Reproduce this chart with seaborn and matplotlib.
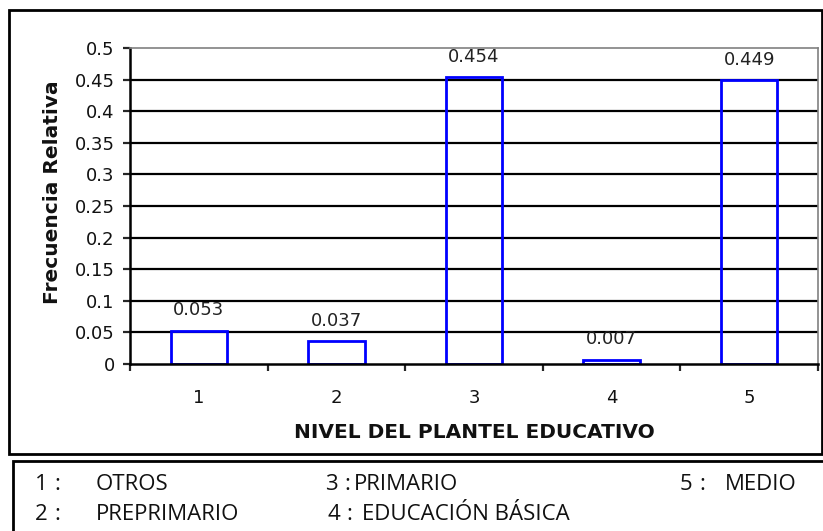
import matplotlib
matplotlib.use("Agg")
import matplotlib.pyplot as plt
import seaborn as sns
import pandas as pd
from matplotlib.patches import Rectangle

# data
niveles = ["1", "2", "3", "4", "5"]
frecuencia = [0.053, 0.037, 0.454, 0.007, 0.449]
etiquetas = ["0.053", "0.037", "0.454", "0.007", "0.449"]
leyenda = [("1", "OTROS"), ("2", "PREPRIMARIO"), ("3", "PRIMARIO"),
           ("4", "EDUCACIÓN BÁSICA"), ("5", "MEDIO")]
yticks = [0, 0.05, 0.1, 0.15, 0.2, 0.25, 0.3, 0.35, 0.4, 0.45, 0.5]

sns.set_style("white")
plt.rcParams["font.family"] = ["DejaVu Sans"]

df = pd.DataFrame({"Nivel": niveles, "Frecuencia": frecuencia})

fig = plt.figure(figsize=(8.23, 5.31), dpi=100)
W, H = 823, 531
ax = fig.add_axes([130 / W, 1 - 364 / H, (818 - 130) / W, (364 - 48) / H])

sns.barplot(data=df, x="Nivel", y="Frecuencia", ax=ax, fill=False,
            edgecolor="#0000ff", linewidth=2, width=0.41, errorbar=None)

ax.set_xlim(-0.5, 4.5)
ax.set_ylim(0, 0.5)
ax.set_yticks(yticks)
ax.set_yticklabels([f"{v:g}" for v in yticks], fontsize=13, color="#111111")
for v in yticks[1:-1]:
    ax.axhline(v, color="black", lw=1.6, zorder=0)

# ticks between categories, labels at centers
ax.set_xticks([i - 0.5 for i in range(len(niveles) + 1)])
ax.set_xticklabels([])
ax.set_xticks(range(len(niveles)), minor=True)
ax.set_xticklabels(niveles, minor=True, fontsize=13, color="#111111")
ax.tick_params(axis="x", which="major", direction="out", length=5, width=1.6, bottom=True)
ax.tick_params(axis="x", which="minor", length=0, pad=18)
ax.tick_params(axis="y", direction="out", length=5, width=1.6, left=True, pad=6)

for s in ["left", "bottom"]:
    ax.spines[s].set_color("black")
    ax.spines[s].set_linewidth(1.8)
for s in ["top", "right"]:
    ax.spines[s].set_color("#808080")
    ax.spines[s].set_linewidth(1.2)

for i, (v, t) in enumerate(zip(frecuencia, etiquetas)):
    ax.annotate(t, (i, v), xytext=(0, 8), textcoords="offset points",
                ha="center", va="bottom", fontsize=13, color="#222222")

ax.set_xlabel("NIVEL DEL PLANTEL EDUCATIVO", fontsize=14.5, fontweight="bold",
              color="#111111")
ax.xaxis.set_label_coords(0.5, -(432 - 364) / (364 - 48), transform=ax.transAxes)
ax.xaxis.label.set_va("center")
ax.set_ylabel("Frecuencia Relativa", fontsize=14.5, fontweight="bold",
              color="#111111")
ax.yaxis.set_label_coords(-(130 - 53) / (818 - 130), (364 - 192) / (364 - 48))
ax.yaxis.label.set_va("center")

# outer chart frame and legend box
fig.add_artist(Rectangle((9 / W, 1 - 454 / H), (822 - 9) / W, (454 - 10) / H,
                         transform=fig.transFigure, fill=False, lw=2, ec="black"))
fig.add_artist(Rectangle((13 / W, -0.05), 1, 1 - 461 / H + 0.05,
                         transform=fig.transFigure, fill=False, lw=2, ec="black"))

pos = {"1": (35, 96, 484), "2": (35, 96, 515), "3": (325, 354, 484),
       "4": (327, 362, 515), "5": (680, 725, 484)}
for num, nombre in leyenda:
    xn, xt, y = pos[num]
    kw = dict(fontsize=16, va="center", color="#111111", family="Open Sans")
    fig.text(xn / W, 1 - y / H, num, **kw)
    fig.text((xn + 19) / W, 1 - y / H, ":", **kw)
    fig.text(xt / W, 1 - y / H, nombre, **kw)

fig.savefig("out.png", dpi=100)
